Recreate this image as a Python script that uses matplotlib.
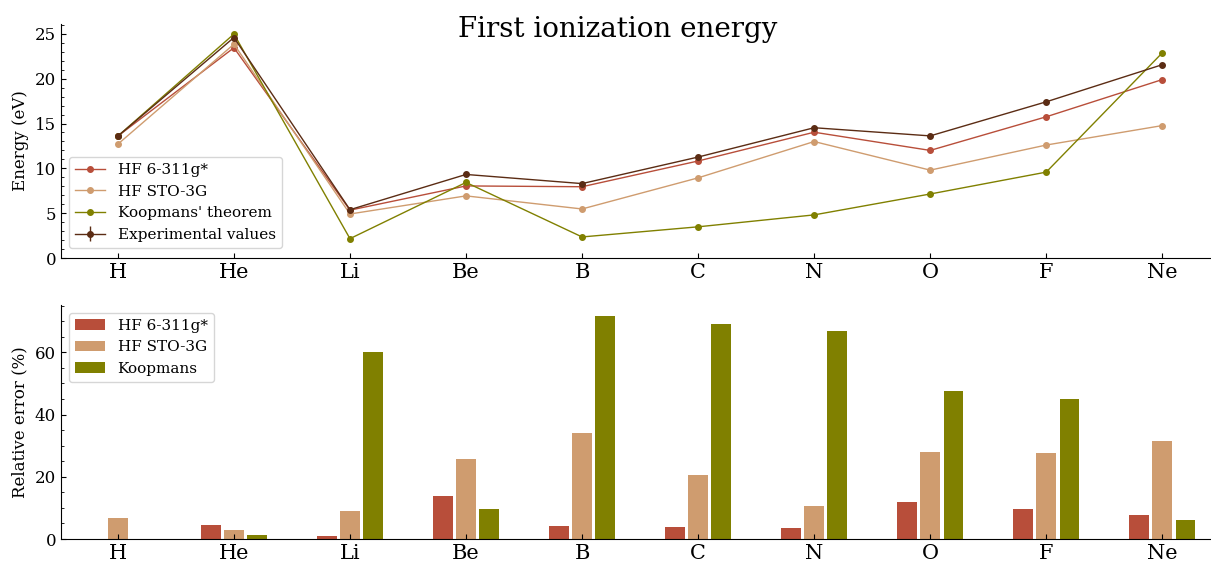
import numpy as np
import matplotlib
matplotlib.use("Agg")
import matplotlib.pyplot as plt
from matplotlib.ticker import AutoMinorLocator

plt.rcParams['font.family'] = 'DejaVu Serif'
plt.rcParams['xtick.direction'] = 'in'
plt.rcParams['ytick.direction'] = 'in'

atoms = ['H', 'He', 'Li', 'Be', 'B', 'C', 'N', 'O', 'F', 'Ne']

# first ionization energies (eV)
hf_6311 = [13.6, 23.45, 5.34, 8.04, 7.95, 10.82, 14.03, 12.0, 15.75, 19.9]
hf_sto3g = [12.7, 23.85, 4.91, 6.93, 5.47, 8.94, 12.99, 9.8, 12.6, 14.77]
koopmans = [13.6, 24.98, 2.16, 8.43, 2.35, 3.48, 4.81, 7.14, 9.58, 22.88]
experimental = [13.6, 24.59, 5.39, 9.32, 8.30, 11.26, 14.53, 13.62, 17.42, 21.56]

# relative error against experiment (%)
err_6311 = [0.0, 4.5, 1.0, 13.8, 4.2, 3.9, 3.5, 11.9, 9.6, 7.7]
err_sto3g = [6.6, 2.9, 9.0, 25.7, 34.1, 20.6, 10.6, 28.0, 27.7, 31.5]
err_koopmans = [0.0, 1.3, 60.1, 9.6, 71.7, 69.1, 66.9, 47.6, 45.0, 6.1]

c_6311 = '#b84e3a'
c_sto = '#cf9c6f'
c_koop = '#808000'
c_exp = '#5b2c14'

fig = plt.figure(figsize=(12.11, 5.63), dpi=100)
ax1 = fig.add_axes([0.0504, 0.5417, 0.9496, 0.4157])
ax2 = fig.add_axes([0.0504, 0.0426, 0.9496, 0.4157])

x = np.arange(len(atoms))

ax1.plot(x, hf_6311, '-o', color=c_6311, lw=1, ms=4, label='HF 6-311g*')
ax1.plot(x, hf_sto3g, '-o', color=c_sto, lw=1, ms=4, label='HF STO-3G')
ax1.plot(x, koopmans, '-o', color=c_koop, lw=1, ms=4, label="Koopmans' theorem")
ax1.errorbar(x, experimental, yerr=np.zeros(len(x)), fmt='-o', color=c_exp,
             lw=1, ms=4, label='Experimental values')
ax1.set_ylim(0, 26.1)
ax1.set_ylabel('Energy (eV)', fontsize=12)
ax1.legend(loc='lower left', fontsize=11, bbox_to_anchor=(0.0, 0.01))

w = 0.17
ax2.bar(x - 0.2, err_6311, w, color=c_6311, label='HF 6-311g*')
ax2.bar(x, err_sto3g, w, color=c_sto, label='HF STO-3G')
ax2.bar(x + 0.2, err_koopmans, w, color=c_koop, label='Koopmans')
ax2.set_ylim(0, 75.2)
ax2.set_ylabel('Relative error (%)', fontsize=12)
ax2.legend(loc='upper left', fontsize=11)

for ax in (ax1, ax2):
    ax.set_xlim(-0.49, 9.42)
    ax.set_xticks(x)
    ax.set_xticklabels(atoms, fontsize=15)
    ax.tick_params(axis='y', labelsize=12)
    ax.yaxis.set_minor_locator(AutoMinorLocator())
    ax.spines['top'].set_visible(False)
    ax.spines['right'].set_visible(False)

ax1.yaxis.set_label_coords(-0.028, 0.5)
ax2.yaxis.set_label_coords(-0.028, 0.5)

fig.text(0.51, 0.935, 'First ionization energy', ha='center', fontsize=20)

fig.savefig('out.png', dpi=100)
